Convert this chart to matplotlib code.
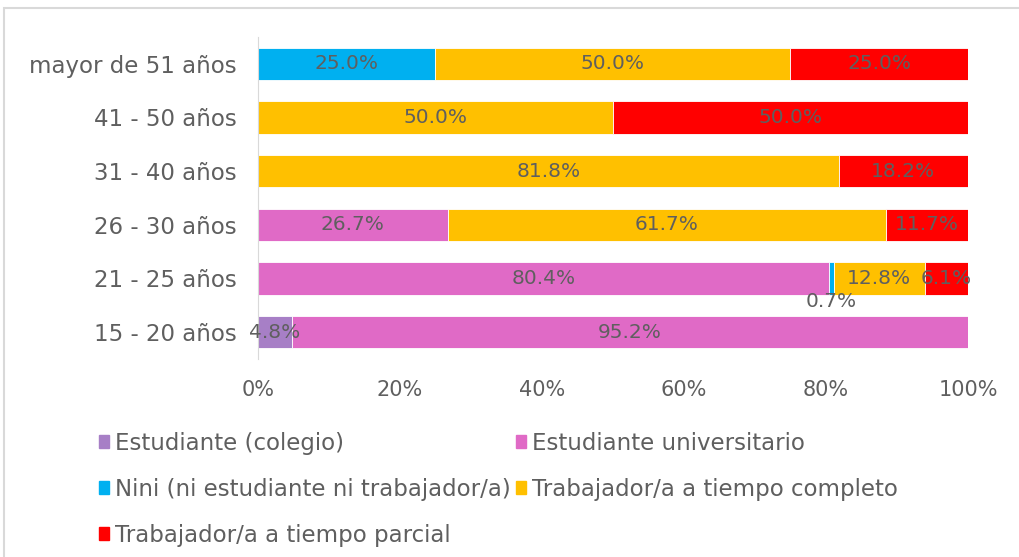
import numpy as np
import matplotlib.pyplot as plt
import matplotlib as mpl
from matplotlib.patches import Rectangle

plt.rcParams['font.family'] = ['DejaVu Sans']

grey = '#5f5f5f'

categories = ['15 - 20 años', '21 - 25 años', '26 - 30 años',
              '31 - 40 años', '41 - 50 años', 'mayor de 51 años']
series = ['Estudiante (colegio)', 'Estudiante universitario',
          'Nini (ni estudiante ni trabajador/a)',
          'Trabajador/a a tiempo completo', 'Trabajador/a a tiempo parcial']
colors = ['#A77FC6', '#E06AC6', '#00B0F0', '#FFC000', '#FF0000']

colegio = [4.8, 0, 0, 0, 0, 0]
universitario = [95.2, 80.4, 26.7, 0, 0, 0]
nini = [0, 0.7, 0, 0, 0, 25.0]
completo = [0, 12.8, 61.7, 81.8, 50.0, 50.0]
parcial = [0, 6.1, 11.7, 18.2, 50.0, 25.0]
values = [colegio, universitario, nini, completo, parcial]

fig = plt.figure(figsize=(10.2, 5.57), dpi=100)
ax = fig.add_axes([0.2529, 0.3555, 0.6961, 0.5781])

# chart border
fig.patches.append(Rectangle((4 / 1020, -0.1), 1.2, (557 - 8) / 557 + 0.1,
                             transform=fig.transFigure, fill=False,
                             edgecolor='#D9D9D9', linewidth=1.5))

y = np.arange(len(categories))
left = np.zeros(len(categories))
for name, vals, col in zip(series, values, colors):
    vals = np.array(vals)
    ax.barh(y, vals, left=left, height=0.6, color=col, label=name,
            edgecolor='white', linewidth=0.6)
    for i, v in enumerate(vals):
        if v <= 0:
            continue
        xc = left[i] + v / 2
        yc = y[i]
        if v < 1:
            yc = y[i] - 0.42
        ax.text(xc, yc, f'{v:.1f}%', ha='center', va='center',
                fontsize=14.5, color=grey)
    left += vals

ax.set_xlim(0, 100)
ax.set_ylim(-0.5, 5.5)
ax.set_yticks(y)
ax.set_yticklabels(categories, fontsize=16.5, color=grey)
ax.set_xticks(np.arange(0, 101, 20))
ax.set_xticklabels([f'{t}%' for t in range(0, 101, 20)], fontsize=15, color=grey)
ax.tick_params(axis='y', length=0, pad=15)
ax.tick_params(axis='x', length=0, pad=15)
for s in ['top', 'right', 'bottom']:
    ax.spines[s].set_visible(False)
ax.spines['left'].set_color('#D9D9D9')

handles = [Rectangle((0, 0), 1, 1, color=c) for c in colors]
order = [0, 2, 4, 1, 3]
leg = fig.legend([handles[i] for i in order], [series[i] for i in order],
                 ncol=2, loc='upper left', bbox_to_anchor=(0.077, 0.262),
                 frameon=False, fontsize=16.5, handlelength=0.45,
                 handleheight=0.45, handletextpad=0.25, columnspacing=0.2,
                 labelspacing=1.0, labelcolor=grey)

plt.savefig('out.png', dpi=100)
